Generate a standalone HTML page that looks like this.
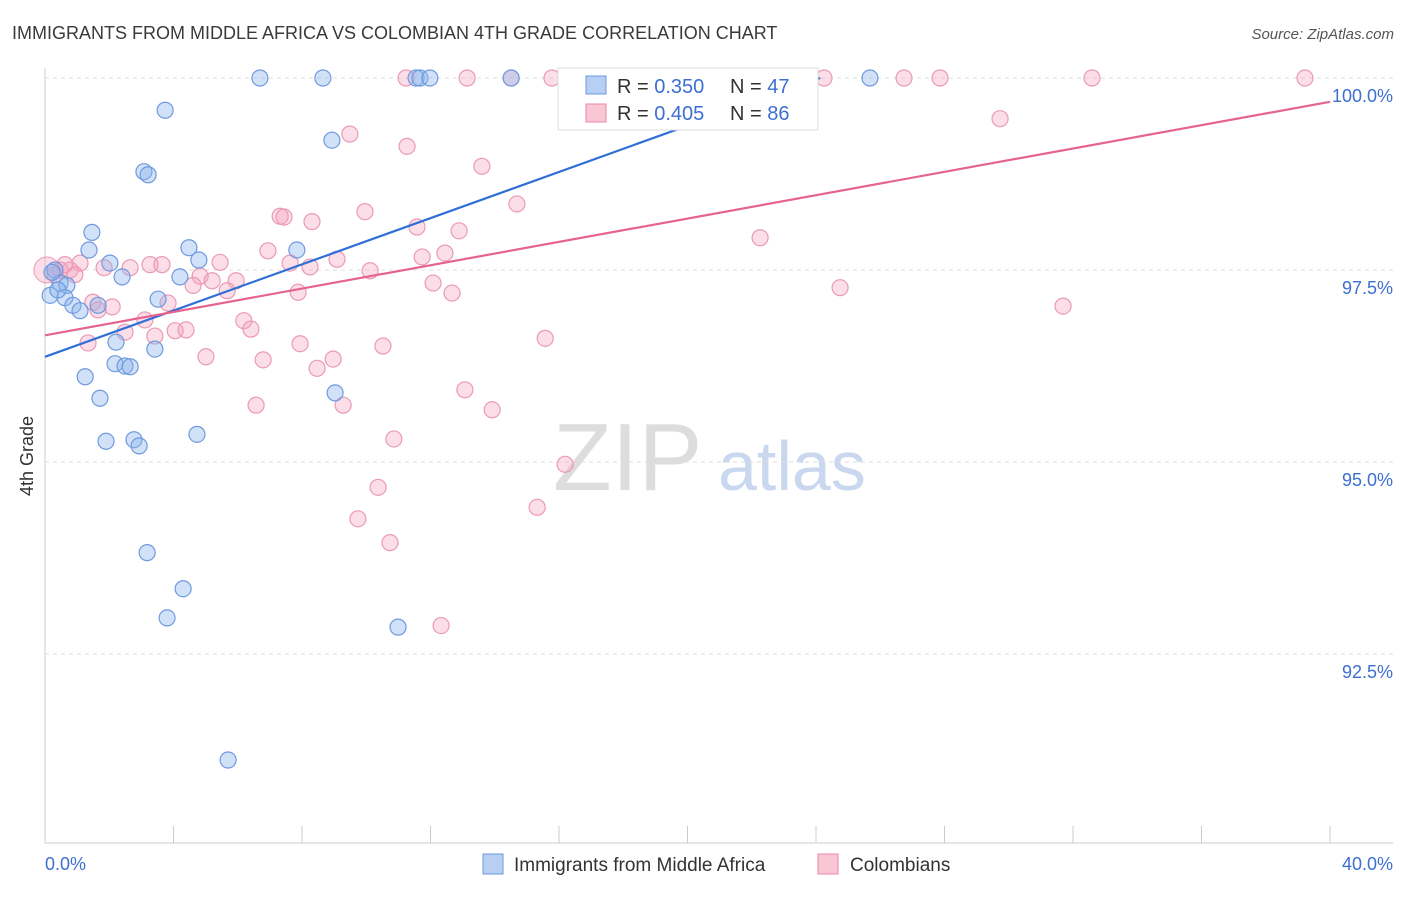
<!DOCTYPE html>
<html><head><meta charset="utf-8"><style>
body{margin:0;background:#fff;font-family:"Liberation Sans",sans-serif}
svg text{font-family:"Liberation Sans",sans-serif}
</style></head><body>
<svg id="chart" width="1406" height="892">
<text x="12" y="39" font-size="18" fill="#3a3a3a">IMMIGRANTS FROM MIDDLE AFRICA VS COLOMBIAN 4TH GRADE CORRELATION CHART</text>
<text x="1394" y="39" font-size="15" fill="#555" font-style="italic" text-anchor="end">Source: ZipAtlas.com</text>
<text x="33" y="456" font-size="18" fill="#333" transform="rotate(-90 33 456)" text-anchor="middle">4th Grade</text>
<text x="553" y="490" font-size="96" fill="#ddd" font-family="Liberation Serif">ZIP</text>
<text x="718" y="490" font-size="70" fill="#c9d8ef">atlas</text>
<g id="grid"></g><g id="axes"></g><g id="pts"></g><g id="trend"></g>
<g>
<rect x="558" y="68" width="260" height="62" fill="#fff" stroke="#ddd"/>
<rect x="586" y="76" width="20" height="18" fill="#b7cff2" stroke="#6f9ae0"/>
<text x="617" y="93" font-size="20" fill="#333">R = <tspan fill="#3d6fd1">0.350</tspan></text>
<text x="730" y="93" font-size="20" fill="#333">N = <tspan fill="#3d6fd1">47</tspan></text>
<rect x="586" y="104" width="20" height="18" fill="#f8c6d5" stroke="#e98aa8"/>
<text x="617" y="120" font-size="20" fill="#333">R = <tspan fill="#3d6fd1">0.405</tspan></text>
<text x="730" y="120" font-size="20" fill="#333">N = <tspan fill="#3d6fd1">86</tspan></text>
</g>
<g>
<rect x="483" y="854" width="20" height="20" fill="#b7cff2" stroke="#6f9ae0"/>
<text x="514" y="871" font-size="19" fill="#333">Immigrants from Middle Africa</text>
<rect x="818" y="854" width="20" height="20" fill="#f8c6d5" stroke="#e98aa8"/>
<text x="850" y="871" font-size="19" fill="#333">Colombians</text>
</g>
</svg>
<script>
const blueX=[6.69,8.65,11.55,11.67,11.98,14.51,25.68,3.74,8.93,3.08,3.21,1.46,1.37,4.48,7.84,2.02,4.79,2.40,4.20,0.31,0.47,0.68,0.16,0.62,0.87,1.65,1.09,3.52,2.21,3.42,2.18,2.49,2.65,1.25,1.71,9.03,1.90,2.77,2.93,4.73,3.18,4.30,3.80,10.99,5.70,0.22,0.40];
const blueY=[100,100,100,100,100,100,100,99.58,99.19,98.78,98.74,97.99,97.76,97.79,97.76,97.59,97.63,97.41,97.41,97.50,97.33,97.30,97.17,97.14,97.04,97.04,96.97,97.12,96.56,96.47,96.28,96.25,96.24,96.11,95.83,95.90,95.27,95.29,95.21,95.36,93.82,93.35,92.97,92.85,91.12,97.47,97.24];
const pinkX=[11.24,13.14,14.51,15.78,18.27,20.95,24.25,26.74,27.86,32.59,39.22,9.49,11.27,29.73,13.60,14.69,7.32,7.44,8.31,9.96,11.58,12.89,22.26,6.94,5.45,7.63,8.25,9.09,10.12,11.74,12.45,3.27,3.64,2.65,1.84,1.09,0.78,0.93,0.47,0.31,4.83,5.20,5.95,4.61,5.67,7.88,12.08,12.67,24.75,31.69,1.49,2.09,1.65,3.83,3.11,2.49,6.19,6.41,4.05,4.39,3.42,1.34,7.94,10.52,15.57,5.01,6.79,8.97,8.47,13.07,13.92,6.57,9.28,10.86,16.19,10.37,15.32,9.74,10.74,12.33,0.62];
const pinkY=[100,100,100,100,100,100,100,100,100,100,100,99.27,99.11,99.47,98.85,98.36,98.20,98.19,98.13,98.26,98.06,98.01,97.92,97.75,97.60,97.59,97.54,97.64,97.49,97.67,97.72,97.57,97.57,97.53,97.53,97.59,97.50,97.44,97.50,97.44,97.42,97.36,97.36,97.30,97.23,97.21,97.33,97.20,97.27,97.03,97.08,97.02,96.98,97.07,96.85,96.69,96.84,96.73,96.71,96.72,96.64,96.55,96.54,96.51,96.61,96.37,96.33,96.34,96.22,95.94,95.68,95.74,95.74,95.30,94.97,94.67,94.41,94.26,93.95,92.87,97.57];
const yTicks=[100,97.5,95,92.5];
const yTickLabels=["100.0%","97.5%","95.0%","92.5%"];
const blueTrend=[[0,96.37],[24.13,100]];
const pinkTrend=[[0,96.65],[40,99.69]];
const NS="http://www.w3.org/2000/svg";
const sx=v=>45+v/40*1285, sy=v=>78+(100-v)/2.5*192;
function mk(t,a,p){const e=document.createElementNS(NS,t);for(const k in a)e.setAttribute(k,a[k]);document.getElementById(p).appendChild(e);return e;}
yTicks.forEach((t,i)=>{
 const l=mk('line',{x1:45,x2:1393,y1:sy(t),y2:sy(t),stroke:'#ddd','stroke-dasharray':'4,4'},'grid');
 
 
 const tx=mk('text',{x:1393,y:sy(t)+24,'font-size':18,fill:'#3d6fd1','text-anchor':'end'},'grid');
 tx.textContent=yTickLabels[i];
 
 
});
let a=mk('line',{x1:45,x2:45,y1:68,y2:843,stroke:'#ccc'},'axes');


a=mk('line',{x1:45,x2:1393,y1:843,y2:843,stroke:'#ccc'},'axes');


for(let k=0;k<=10;k++){const x=sx(k*4);const t=mk('line',{x1:x,x2:x,y1:826,y2:843,stroke:'#ccc'},'axes');
 
 }
[["0.0%",45,'start'],["40.0%",1393,'end']].forEach(d=>{const t=mk('text',{x:d[1],y:870,'font-size':18,fill:'#3d6fd1','text-anchor':d[2]},'axes');t.textContent=d[0];
 
 });
pinkX.forEach((x,i)=>{const c=mk('circle',{cx:sx(x),cy:sy(pinkY[i]),r:8,fill:'rgba(244,160,188,0.35)',stroke:'#eb9ab4','stroke-width':1.2},'pts');
 
 });
const big=mk('circle',{cx:sx(0.06),cy:sy(97.5),r:13,fill:'rgba(244,160,188,0.35)',stroke:'#eb9ab4'},'pts');


blueX.forEach((x,i)=>{const c=mk('circle',{cx:sx(x),cy:sy(blueY[i]),r:8,fill:'rgba(140,180,235,0.4)',stroke:'#6f9ae0','stroke-width':1.2},'pts');
 
 });
let tl=mk('line',{x1:sx(blueTrend[0][0]),y1:sy(blueTrend[0][1]),x2:sx(blueTrend[1][0]),y2:sy(blueTrend[1][1]),stroke:'#2f6fd6','stroke-width':2.2},'trend');


tl=mk('line',{x1:sx(pinkTrend[0][0]),y1:sy(pinkTrend[0][1]),x2:sx(pinkTrend[1][0]),y2:sy(pinkTrend[1][1]),stroke:'#e5648e','stroke-width':2.2},'trend');


</script>
</body></html>
